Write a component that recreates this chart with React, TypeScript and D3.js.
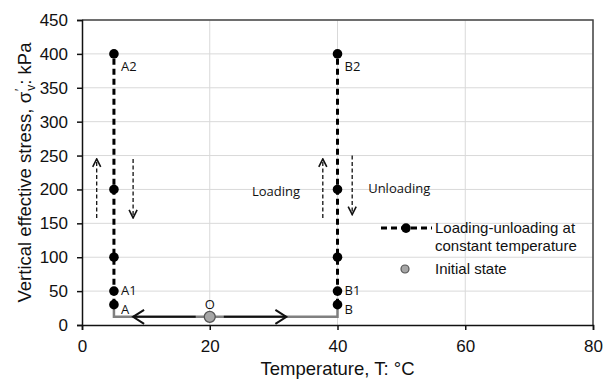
import React, { useEffect, useRef } from 'react';
import * as d3 from 'd3';

// loading-unloading paths at constant temperature
const stressLevels = [30, 50, 100, 200, 400];
const tempA = 5;
const tempB = 40;
const pointLabels = [
  { t: tempA, s: 400, text: 'A2' },
  { t: tempA, s: 50, text: 'A1' },
  { t: tempA, s: 30, text: 'A' },
  { t: tempB, s: 400, text: 'B2' },
  { t: tempB, s: 50, text: 'B1' },
  { t: tempB, s: 30, text: 'B' },
];
// initial state and heating/cooling path
const initial = { t: 20, s: 12 };
const heatPath: [number, number][] = [[5, 30], [5, 12], [40, 12], [40, 30]];
const heatArrows = [{ from: 17.8, to: 8 }, { from: 22.2, to: 32 }];
// thin dashed loading / unloading arrows
const loadArrows = [
  { t: 2.3, from: 158, to: 245 },
  { t: 8, from: 245, to: 158 },
  { t: 37.7, from: 158, to: 245 },
  { t: 42.3, from: 250, to: 163 },
];
const xTicks = [0, 20, 40, 60, 80];
const yTicks = [0, 50, 100, 150, 200, 250, 300, 350, 400, 450];

const W = 611;
const H = 381;
const M = { left: 82, right: 18, top: 20, bottom: 56 };

export default function App() {
  const ref = useRef<SVGSVGElement>(null);

  useEffect(() => {
    const svg = d3.select(ref.current);
    svg.selectAll('*').remove();

    const x = d3.scaleLinear().domain([0, 80]).range([M.left, W - M.right]);
    const y = d3.scaleLinear().domain([0, 450]).range([H - M.bottom, M.top]);
    const font = 'Liberation Sans, Arial, sans-serif';
    const labelFont = 'Open Sans, sans-serif';

    // grid
    svg.append('g').selectAll('line').data(yTicks.slice(1)).join('line')
      .attr('x1', x(0)).attr('x2', x(80))
      .attr('y1', d => y(d)).attr('y2', d => y(d))
      .attr('stroke', '#d9d9d9').attr('stroke-width', 1);
    svg.append('g').selectAll('line').data(xTicks.slice(1)).join('line')
      .attr('x1', d => x(d)).attr('x2', d => x(d))
      .attr('y1', y(0)).attr('y2', y(450))
      .attr('stroke', '#d9d9d9').attr('stroke-width', 1);

    // frame top/right
    svg.append('path')
      .attr('d', `M${x(0)},${y(450)}H${x(80)}V${y(0)}`)
      .attr('fill', 'none').attr('stroke', '#444').attr('stroke-width', 1.5);

    // axes
    const xAxis = svg.append('g').attr('transform', `translate(0,${y(0)})`)
      .call(d3.axisBottom(x).tickValues(xTicks).tickSize(5).tickPadding(10));
    const yAxis = svg.append('g').attr('transform', `translate(${x(0)},0)`)
      .call(d3.axisLeft(y).tickValues(yTicks).tickSize(5).tickPadding(9));
    [xAxis, yAxis].forEach(a => {
      a.select('.domain').attr('stroke', '#111').attr('stroke-width', 1.5);
      a.selectAll('.tick line').attr('stroke', '#111').attr('stroke-width', 1.5);
      a.selectAll('.tick text').attr('font-family', font).attr('font-size', 17).attr('fill', '#111');
    });

    // heating/cooling path
    svg.append('path')
      .attr('d', d3.line()(heatPath.map(([t, s]) => [x(t), y(s)])))
      .attr('fill', 'none').attr('stroke', '#808080').attr('stroke-width', 2.5);

    const defs = svg.append('defs');
    defs.append('marker')
      .attr('id', 'chev').attr('viewBox', '0 0 10 10').attr('refX', 9).attr('refY', 5)
      .attr('markerWidth', 10).attr('markerHeight', 10).attr('markerUnits', 'userSpaceOnUse')
      .attr('orient', 'auto')
      .append('path').attr('d', 'M1,1L9,5L1,9').attr('fill', 'none')
      .attr('stroke', '#111').attr('stroke-width', 1.6);
    defs.append('marker')
      .attr('id', 'chev2').attr('viewBox', '0 0 16 16').attr('refX', 14).attr('refY', 8)
      .attr('markerWidth', 16).attr('markerHeight', 16).attr('markerUnits', 'userSpaceOnUse')
      .attr('orient', 'auto')
      .append('path').attr('d', 'M3,1L14,8L3,15').attr('fill', 'none')
      .attr('stroke', '#111').attr('stroke-width', 2);

    svg.append('g').selectAll('line').data(heatArrows).join('line')
      .attr('x1', d => x(d.from)).attr('x2', d => x(d.to))
      .attr('y1', y(initial.s)).attr('y2', y(initial.s))
      .attr('stroke', '#111').attr('stroke-width', 2)
      .attr('marker-end', 'url(#chev2)');

    // thin dashed arrows
    svg.append('g').selectAll('line').data(loadArrows).join('line')
      .attr('x1', d => x(d.t)).attr('x2', d => x(d.t))
      .attr('y1', d => y(d.from)).attr('y2', d => y(d.to))
      .attr('stroke', '#111').attr('stroke-width', 1.3).attr('stroke-dasharray', '4,2.5')
      .attr('marker-end', 'url(#chev)');

    // loading-unloading series
    [tempA, tempB].forEach(t => {
      svg.append('path')
        .attr('d', d3.line<number>().x(() => x(t)).y(d => y(d))(stressLevels))
        .attr('fill', 'none').attr('stroke', '#000').attr('stroke-width', 3)
        .attr('stroke-dasharray', '6,4');
      svg.append('g').selectAll('circle').data(stressLevels).join('circle')
        .attr('cx', x(t)).attr('cy', d => y(d)).attr('r', 4.8).attr('fill', '#000');
    });

    // initial state
    svg.append('circle').attr('cx', x(initial.t)).attr('cy', y(initial.s)).attr('r', 5.5)
      .attr('fill', '#a6a6a6').attr('stroke', '#555').attr('stroke-width', 1.3);

    // point labels
    svg.append('g').selectAll('text').data(pointLabels).join('text')
      .attr('x', d => x(d.t) + 7).attr('y', d => y(d.s) + (d.s === 400 ? 17 : d.s === 30 ? 9 : 4))
      .attr('font-family', labelFont).attr('font-size', 13).attr('fill', '#111')
      .text(d => d.text);
    svg.append('text').attr('x', x(initial.t)).attr('y', y(initial.s) - 8)
      .attr('text-anchor', 'middle').attr('font-family', labelFont).attr('font-size', 13)
      .attr('fill', '#111').text('O');

    svg.append('text').attr('x', x(26.6)).attr('y', y(196) + 4)
      .attr('font-family', labelFont).attr('font-size', 13).attr('fill', '#111').text('Loading');
    svg.append('text').attr('x', x(44.8)).attr('y', y(200) + 4)
      .attr('font-family', labelFont).attr('font-size', 13).attr('fill', '#111').text('Unloading');

    // legend
    const lg = svg.append('g').attr('font-family', font).attr('font-size', 15).attr('fill', '#111');
    const ly = y(143);
    lg.append('line').attr('x1', 381).attr('x2', 432).attr('y1', ly).attr('y2', ly)
      .attr('stroke', '#000').attr('stroke-width', 3).attr('stroke-dasharray', '6,4');
    lg.append('circle').attr('cx', 406).attr('cy', ly).attr('r', 4.8).attr('fill', '#000');
    lg.append('text').attr('x', 435).attr('y', ly + 5).text('Loading-unloading at');
    lg.append('text').attr('x', 435).attr('y', ly + 23).text('constant temperature');
    lg.append('circle').attr('cx', 405).attr('cy', 269).attr('r', 4)
      .attr('fill', '#a6a6a6').attr('stroke', '#555').attr('stroke-width', 1.2);
    lg.append('text').attr('x', 435).attr('y', 274).text('Initial state');

    // axis titles
    svg.append('text').attr('x', (x(0) + x(80)) / 2).attr('y', 375)
      .attr('text-anchor', 'middle').attr('font-family', font).attr('font-size', 18.5)
      .attr('fill', '#111').text('Temperature, T: °C');
    const yt = svg.append('text').attr('transform', `translate(31,${(y(0) + y(450)) / 2}) rotate(-90)`)
      .attr('text-anchor', 'middle').attr('font-family', font).attr('font-size', 18.5)
      .attr('fill', '#111');
    yt.append('tspan').text('Vertical effective stress, σ');
    yt.append('tspan').attr('dy', -7).attr('dx', 1).attr('font-size', 12).text('\u2032');
    yt.append('tspan').attr('dy', 11).attr('dx', -2).attr('font-size', 12).text('v');
    yt.append('tspan').attr('dy', -4).text(': kPa');
  }, []);

  return (
    <svg ref={ref} width={W} height={H} style={{ position: 'absolute', left: 0, top: 0, background: '#fff' }} />
  );
}
